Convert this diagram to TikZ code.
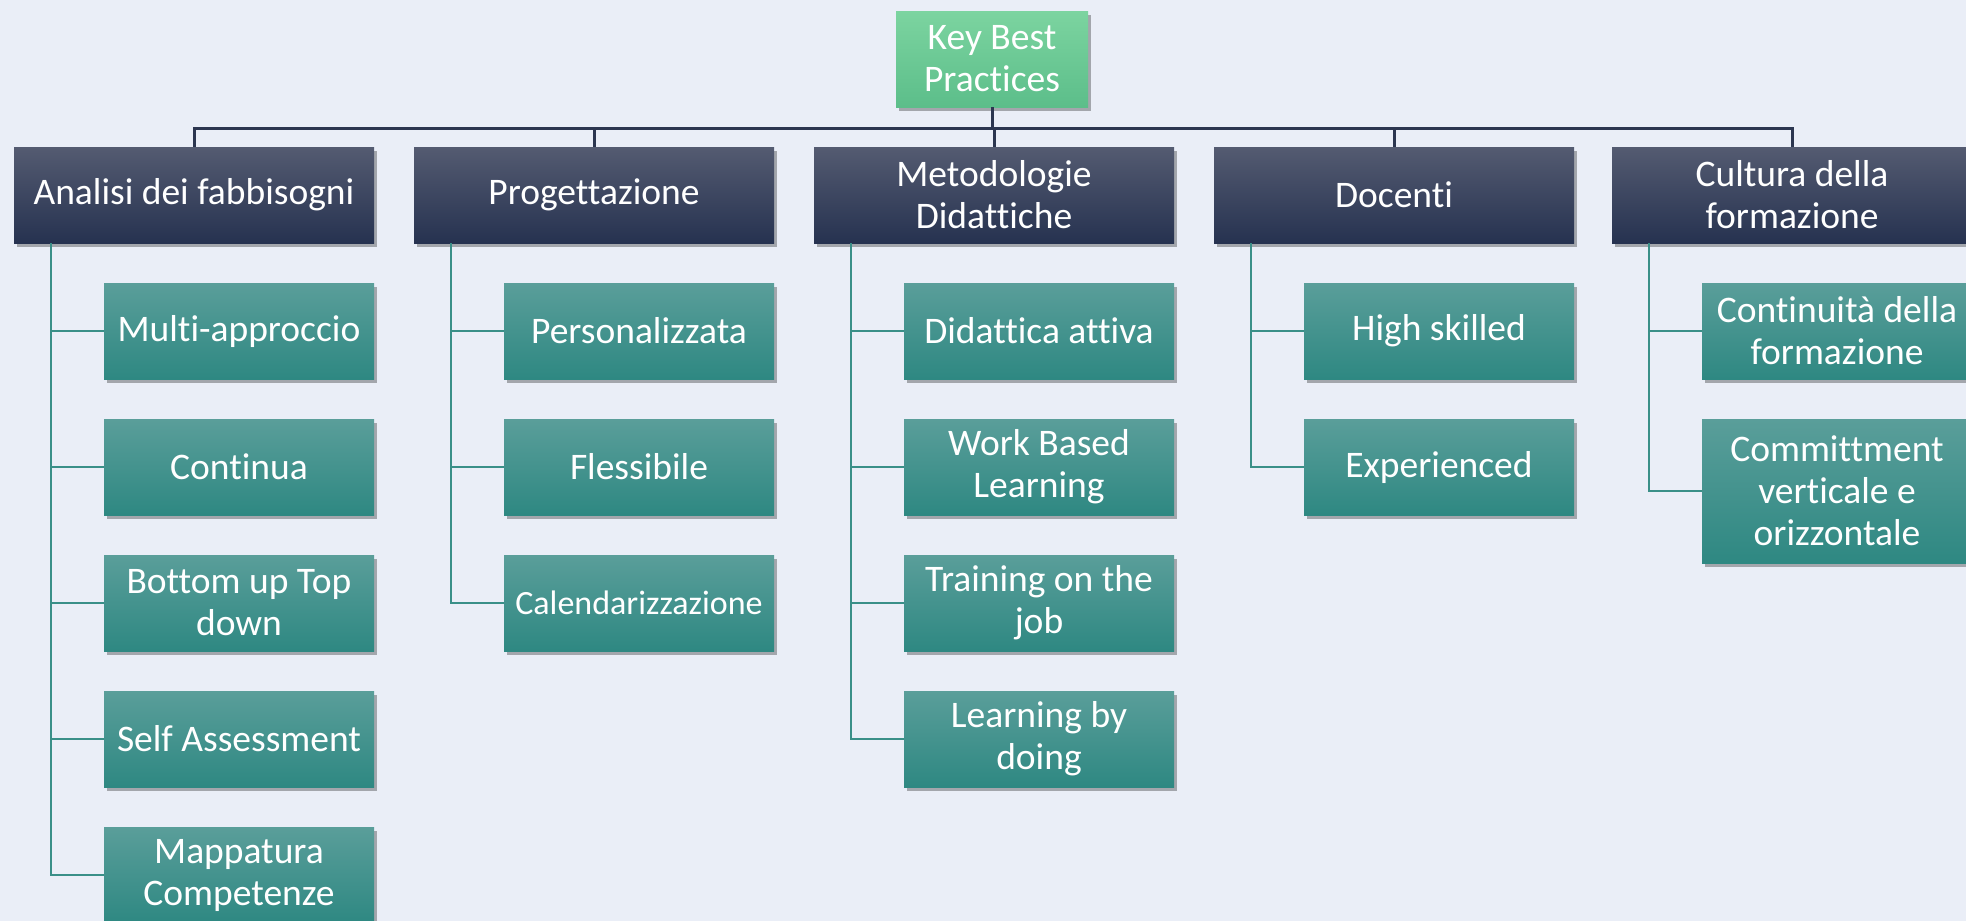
\documentclass[tikz,border=0pt]{standalone}
\usepackage{fontspec}
\setmainfont{Carlito}[RawFeature={-liga;-clig;-calt;-dlig}]
\usetikzlibrary{shadows}
\definecolor{bg}{RGB}{234,238,247}
\definecolor{hTop}{RGB}{84,91,113}
\definecolor{hBot}{RGB}{38,50,80}
\definecolor{cTop}{RGB}{90,158,154}
\definecolor{cBot}{RGB}{46,136,130}
\definecolor{gTop}{RGB}{124,212,160}
\definecolor{gBot}{RGB}{92,190,138}
\definecolor{busc}{RGB}{44,54,80}
\definecolor{tealc}{RGB}{58,143,136}
\tikzset{
  box/.style={anchor=north west, inner sep=0pt, outer sep=0pt, align=center,
    text=white, font=\fontsize{37.5}{42}\selectfont,
    drop shadow={shadow xshift=3pt, shadow yshift=-4pt, opacity=0.3, fill=black}},
  rootbox/.style={box, minimum width=192pt, minimum height=96pt, top color=gTop, bottom color=gBot},
  headbox/.style={box, minimum width=360pt, minimum height=96pt, top color=hTop, bottom color=hBot},
  leafbox/.style={box, minimum width=270pt, minimum height=96pt, top color=cTop, bottom color=cBot},
  bus/.style={draw=busc, line width=3pt},
  branch/.style={draw=tealc, line width=2.5pt},
}
\begin{document}
\begin{tikzpicture}[x=1pt,y=-1pt]
\fill[bg] (0,0) rectangle (1966,921);
\useasboundingbox (0,0) rectangle (1966,921);
\clip (0,0) rectangle (1966,921);
\coordinate (busy) at (0,128);
% root
\node[rootbox] (top) at (896,11) {Key Best\\Practices};
% headers
\node[headbox] (h1) at (14,147) {Analisi dei fabbisogni};
\node[headbox] (h2) at (414,147) {Progettazione};
\node[headbox] (h3) at (814,147) {Metodologie\\Didattiche};
\node[headbox] (h4) at (1214,147) {Docenti};
\node[headbox] (h5) at (1612,147) {Cultura della\\formazione};
% bus
\foreach \h in {h1,h2,h3,h4,h5}{
  \draw[bus] (top.south) -- (top.south |- busy) -| (\h.north);
}
% column 1
\node[leafbox] (c11) at (104,283) {Multi-approccio};
\node[leafbox] (c12) at (104,419) {Continua};
\node[leafbox] (c13) at (104,555) {Bottom up Top\\down};
\node[leafbox] (c14) at (104,691) {Self Assessment};
\node[leafbox] (c15) at (104,827) {Mappatura\\Competenze};
% column 2
\node[leafbox] (c21) at (504,283) {Personalizzata};
\node[leafbox] (c22) at (504,419) {Flessibile};
\node[leafbox, font=\fontsize{34}{40}\selectfont] (c23) at (504,555) {Calendarizzazione};
% column 3
\node[leafbox] (c31) at (904,283) {Didattica attiva};
\node[leafbox] (c32) at (904,419) {Work Based\\Learning};
\node[leafbox] (c33) at (904,555) {Training on the\\job};
\node[leafbox] (c34) at (904,691) {Learning by\\doing};
% column 4
\node[leafbox] (c41) at (1304,283) {High skilled};
\node[leafbox] (c42) at (1304,419) {Experienced};
% column 5
\node[leafbox] (c51) at (1702,283) {Continuità della\\formazione};
\node[leafbox, minimum height=144pt] (c52) at (1702,419) {Committment\\verticale e\\orizzontale};
% branches
\foreach \c in {c11,c12,c13,c14,c15}{\draw[branch] ([xshift=37pt]h1.south west) |- (\c.west);}
\foreach \c in {c21,c22,c23}{\draw[branch] ([xshift=37pt]h2.south west) |- (\c.west);}
\foreach \c in {c31,c32,c33,c34}{\draw[branch] ([xshift=37pt]h3.south west) |- (\c.west);}
\foreach \c in {c41,c42}{\draw[branch] ([xshift=37pt]h4.south west) |- (\c.west);}
\foreach \c in {c51,c52}{\draw[branch] ([xshift=37pt]h5.south west) |- (\c.west);}
\end{tikzpicture}
\end{document}
